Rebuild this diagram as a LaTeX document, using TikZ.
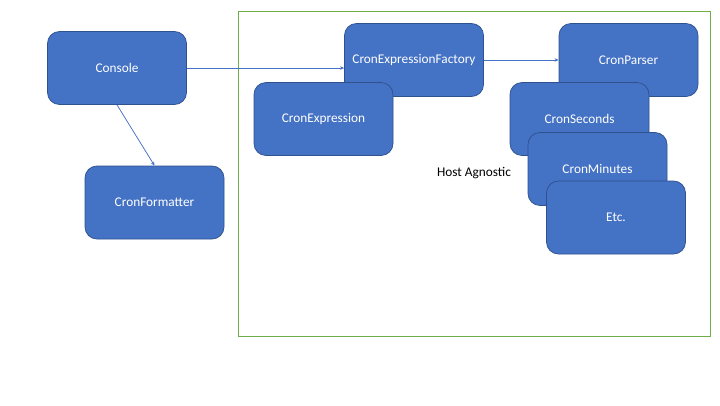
\documentclass[tikz,border=0pt]{standalone}
\usepackage{fontspec}
\setmainfont{Carlito}
\usetikzlibrary{arrows.meta}
\definecolor{cronblue}{RGB}{68, 114, 196}
\definecolor{cronborder}{RGB}{47, 82, 143}
\definecolor{crongreen}{RGB}{112, 173, 71}

\tikzset{
    cronbox/.style={draw=cronborder, fill=cronblue, line width=0.75pt, rounded corners=12pt,
        minimum width=139pt, minimum height=73pt, text=white, font=\fontsize{13.3}{16}\selectfont},
    cronarrow/.style={draw=cronblue, line width=0.75pt, -{Stealth[length=4pt,width=3.5pt]}}
}

\begin{document}
\begin{tikzpicture}[x=1pt, y=-1pt]
    \useasboundingbox[fill=white] (0,0) rectangle (720,405);

    % Host agnostic frame
    \draw[draw=crongreen, line width=0.75pt] (238,11) rectangle (710,336);
    \node[font=\fontsize{13.3}{16}\selectfont] (hostlabel) at (474,173) {Host Agnostic};

    % Console side
    \node[cronbox] (console) at (117,68) {Console};
    \node[cronbox] (formatter) at (154.5,202.5) {CronFormatter};

    % Expression boxes
    \node[cronbox] (factory) at (414,60) {CronExpressionFactory};
    \node[cronbox] (expression) at (323.5,119) {CronExpression};

    % Parser stack
    \node[cronbox] (parser) at (628.5,60) {CronParser};
    \node[cronbox] (seconds) at (579.5,119) {CronSeconds};
    \node[cronbox] (minutes) at (597.5,169) {CronMinutes};
    \node[cronbox] (etc) at (616,217.5) {Etc.};

    % Connectors
    \draw[cronarrow] (console.south) -- (formatter.north);
    \draw[cronarrow] (console.east) -- (console.east -| factory.west);
    \draw[cronarrow] (factory.east) -- (parser.west);
\end{tikzpicture}
\end{document}
